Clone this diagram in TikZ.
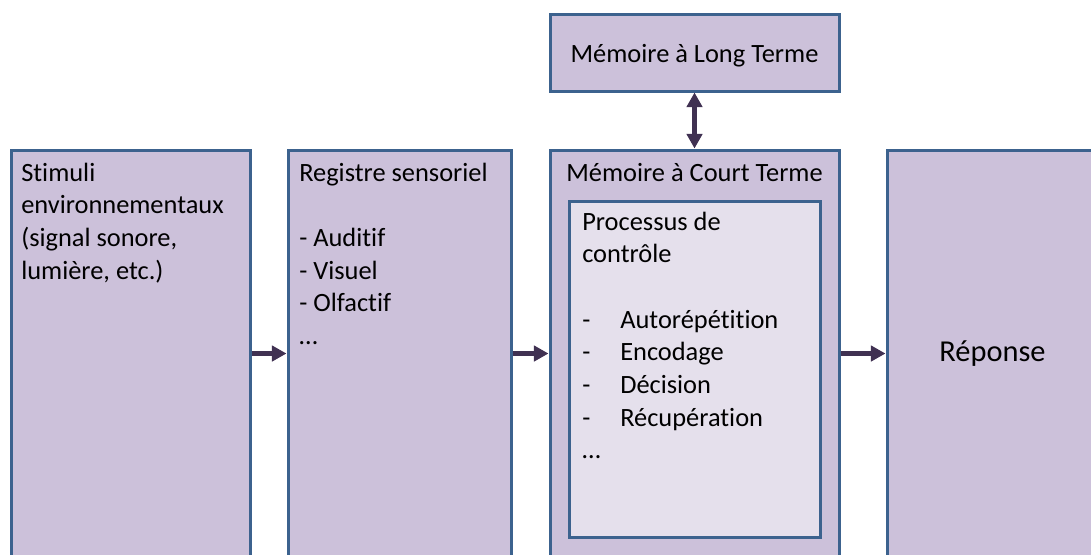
\documentclass[tikz,border=0pt]{standalone}
\usepackage{fontspec}
\setmainfont{Carlito}[Ligatures=NoCommon]
\usetikzlibrary{arrows.meta}
\definecolor{boxborder}{RGB}{60,98,142}
\definecolor{boxfill}{RGB}{204,193,218}
\definecolor{innerfill}{RGB}{229,224,236}
\definecolor{darkpurple}{RGB}{64,49,82}
\newcommand{\puce}{\makebox[28.5pt][l]{-}}
\frenchspacing

\begin{document}
\begin{tikzpicture}[x=0.75pt, y=-0.75pt,
    box/.style={rectangle, draw=boxborder, fill=boxfill, line width=2.25pt, font=\fontsize{19.8}{24.5}\selectfont},
    txt/.style={anchor=north west, inner sep=0pt, align=flush left, text width=200pt, font=\fontsize{19.8}{24.5}\selectfont},
    arrow/.style={-{Triangle[length=11pt, width=11.5pt]}, line width=3.75pt, darkpurple}
]
    \useasboundingbox (0,0) rectangle (1091,554);
    \begin{scope}
    \clip (0,0) rectangle (1091,554);

    % Boxes
    \node[box, minimum width=179.25pt, minimum height=305.25pt] (stim) at (130.5,353.5) {};
    \node[box, minimum width=167.25pt, minimum height=305.25pt] (reg) at (399.5,353.5) {};
    \node[box, minimum width=216.75pt, minimum height=305.25pt] (mct) at (694.5,353.5) {};
    \node[box, minimum width=180pt, minimum height=305.25pt] (rep) at (1007,353.5) {};
    \node[box, minimum width=216.75pt, minimum height=57.75pt, text height=18.8pt, text depth=4pt] (mlt) at (694.5,52.5) {Mémoire à Long Terme};
    \node[box, fill=innerfill, minimum width=188.25pt, minimum height=252pt] (proc) at (694.5,369) {};
    \end{scope}

    % Texts
    \node[txt] (stimtxt) at (21,158) {\strut Stimuli\\environnementaux\\(signal sonore,\\lumière, etc.)};
    \node[txt] (regtxt) at (299,158) {\strut Registre sensoriel\\ \mbox{}\\- Auditif\\- Visuel\\- Olfactif\\…};
    \node[anchor=base, font=\fontsize{19.8}{24.5}\selectfont] (mcttxt) at (694.5,181.5) {Mémoire à Court Terme};
    \node[txt] (proctxt) at (582,207) {\strut Processus de\\contrôle\\ \mbox{}\\\puce Autorépétition\\\puce Encodage\\\puce Décision\\\puce Récupération\\…};
    \node[font=\fontsize{22.8}{27}\selectfont] (reptxt) at (992.5,354) {Réponse};

    % Arrows
    \draw[arrow] (stim) -- (reg);
    \draw[arrow] (reg) -- (mct);
    \draw[arrow] (mct) -- (rep);
    \draw[arrow, {Triangle[length=11pt, width=11.5pt]}-{Triangle[length=11pt, width=11.5pt]}] (mlt) -- (mct);

\end{tikzpicture}
\end{document}
